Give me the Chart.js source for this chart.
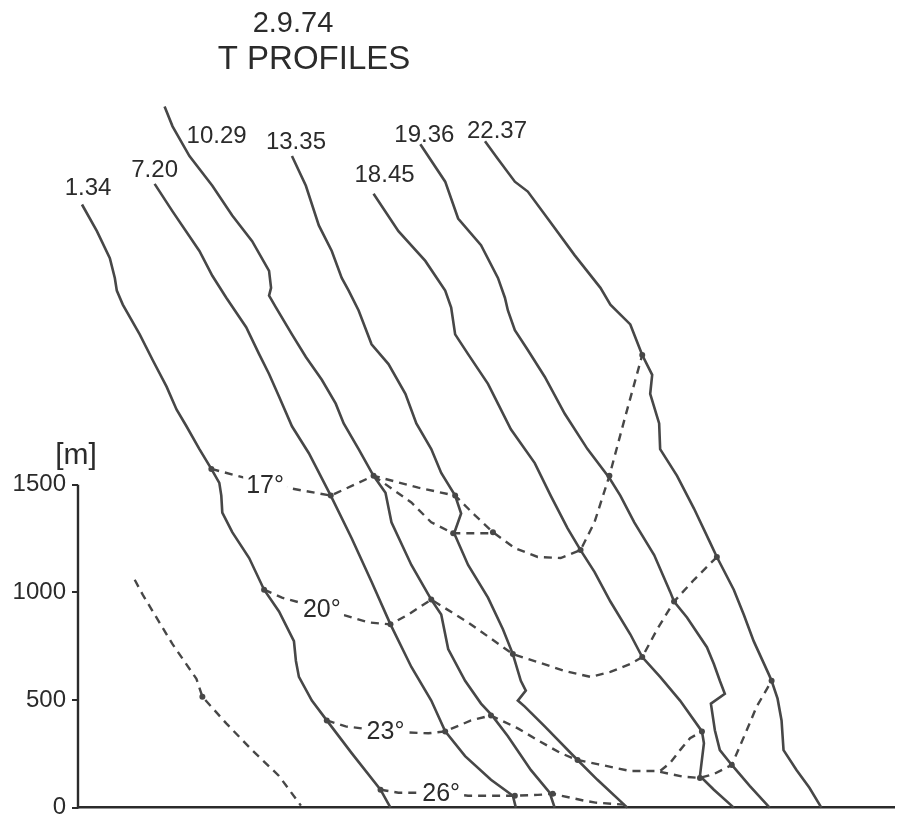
<!DOCTYPE html>
<html>
<head>
<meta charset="utf-8">
<script src="https://cdn.jsdelivr.net/npm/chart.js@4.4.1/dist/chart.umd.min.js"></script>
<style>
  html, body { margin: 0; padding: 0; background: #fff; }
  #wrap { width: 898px; height: 828px; position: relative; }
</style>
</head>
<body>
<div id="wrap"><canvas id="c"></canvas></div>
<script>
// ---- data (x: horizontal offset units, y: height in metres) ----
const titleLines = ['2.9.74', 'T PROFILES'];
const yTicks = [0, 500, 1000, 1500];
const yUnit = '[m]';
const profileTimes = ['1.34', '7.20', '10.29', '13.35', '18.45', '19.36', '22.37'];

const prof_0134 = [[4,2801],[19,2677],[32,2552],[37,2460],[39,2401],[45,2336],[62,2198],[75,2079],[89,1955],[99,1849],[109,1771],[122,1665],[134,1573],[142,1508],[144,1449],[145,1370],[155,1279],[172,1159],[187,1012],[202,911],[217,773],[219,681],[222,607],[235,497],[250,405],[275,253],[304,83],[314,0]];
const prof_0720 = [[77,2897],[95,2769],[122,2585],[135,2470],[149,2368],[169,2231],[182,2106],[192,2014],[202,1909],[215,1771],[232,1646],[254,1449],[275,1251],[295,1049],[314,851],[335,653],[355,497],[369,354],[389,239],[415,129],[437,55],[440,0]];
const prof_1029 = [[87,3256],[95,3164],[112,3026],[135,2888],[155,2750],[175,2631],[192,2493],[194,2414],[192,2378],[199,2322],[215,2198],[229,2093],[245,1987],[259,1876],[267,1784],[282,1665],[297,1541],[309,1462],[315,1325],[335,1127],[355,966],[365,897],[372,736],[389,589],[405,483],[416,428],[432,331],[455,175],[474,69],[479,0]];
const prof_1335 = [[215,3026],[229,2888],[242,2704],[255,2585],[265,2460],[272,2401],[282,2309],[295,2152],[312,2060],[329,1922],[340,1784],[355,1665],[365,1554],[379,1449],[385,1366],[378,1274],[392,1127],[412,975],[427,828],[437,713],[445,589],[450,543],[442,497],[449,469],[469,377],[502,221],[522,129],[552,0]];
const prof_1845 = [[297,2851],[322,2677],[349,2539],[369,2401],[375,2322],[379,2198],[392,2106],[412,1968],[422,1876],[435,1757],[459,1600],[475,1449],[492,1297],[505,1196],[519,1095],[535,957],[555,805],[567,699],[585,607],[605,497],[627,354],[629,299],[625,147],[639,83],[659,0]];
const prof_1936 = [[344,3081],[369,2907],[382,2736],[405,2612],[422,2460],[429,2368],[432,2309],[439,2217],[452,2125],[469,2001],[489,1830],[512,1665],[534,1531],[545,1449],[559,1325],[579,1173],[595,1003],[599,957],[612,883],[632,745],[639,667],[645,589],[650,529],[636,483],[640,359],[645,267],[657,198],[675,101],[695,0]];
const prof_2237 = [[409,3095],[422,3012],[439,2907],[452,2861],[472,2736],[499,2566],[525,2414],[535,2336],[555,2244],[567,2102],[577,2010],[575,1922],[584,1784],[585,1665],[602,1541],[619,1389],[635,1233],[642,1164],[659,1012],[669,897],[679,773],[694,621],[697,589],[703,506],[707,405],[709,267],[722,175],[735,92],[747,0]];

// isotherms: [x, height, crossing flag]
const isoNames = ['17°', '20°', '23°', '26°'];
const iso17a = [[134,1573,1],[194,1499],[254,1449,1],[297,1541,1],[342,1486],[379,1449,1],[399,1357],[417,1279,1],[439,1205],[462,1164],[485,1159],[505,1196,1],[519,1325],[534,1541,1],[550,1817],[567,2102,1]];
const iso17b = [[297,1541],[335,1417],[355,1325],[377,1274,1],[417,1274]];
const iso20  = [[187,1012,1],[205,975],[245,924],[275,883],[292,860],[314,851,1],[332,897],[355,966,1],[392,860],[437,713,1],[462,676],[489,635],[515,607],[535,630],[555,667],[567,699,1],[582,828],[599,957,1],[619,1058],[642,1164,1]];
const iso23a = [[250,405,1],[269,377],[309,354],[352,345],[369,354,1],[395,405],[415,428,1],[442,368],[462,313],[485,253],[502,221,1],[522,202],[555,170],[575,170],[585,170],[595,207],[605,267],[615,322],[627,354,1]];
const iso23b = [[585,166],[609,143],[625,138,1],[639,156],[657,198,1],[672,359],[682,469],[697,589,1]];
const iso26  = [[304,83,1],[322,69],[365,69],[392,55],[439,55,1],[462,59],[477,64,1],[495,46],[509,32],[520,23],[549,14]];
const adiabat = [[57,1058],[65,989],[95,759],[119,598],[125,515,1],[149,391],[175,267],[202,147],[224,9]];

// label placement (layout, not data)
const profileLabelOffsets = [[6,-16],[0,-13],[52,30],[4,-14],[11,-18],[4,-9],[12,-10]];
const isoLabelAt = [[188,1499],[245,924],[309,354],[365,69]];

// ---- styling ----
const INK = '#2b2b2b';
const LINE = '#474747';
const FONT = '"Liberation Sans", Arial, sans-serif';

const toXY = arr => arr.map(p => ({ x: p[0], y: p[1], n: p[2] ? 1 : 0 }));
const profiles = [prof_0134, prof_0720, prof_1029, prof_1335, prof_1845, prof_1936, prof_2237];

const datasets = [];
profiles.forEach((p, i) => {
  datasets.push({
    label: profileTimes[i], data: toXY(p), kind: 'profile', idx: i,
    borderColor: LINE, borderWidth: 2.6, pointRadius: 0, tension: 0, clip: false
  });
});
[iso17a, iso17b, iso20, iso23a, iso23b, iso26, adiabat].forEach((p, i) => {
  datasets.push({
    label: 'iso' + i, data: toXY(p), kind: 'iso',
    borderColor: LINE, borderWidth: 2.4, borderDash: [8, 6], tension: 0, clip: false,
    pointRadius: c => (c.raw && c.raw.n ? 3 : 0),
    pointBackgroundColor: LINE, pointBorderColor: LINE, pointBorderWidth: 0
  });
});

const decor = {
  id: 'decor',
  afterDatasetsDraw(chart) {
    const ctx = chart.ctx;
    const xs = chart.scales.x, ys = chart.scales.y;
    ctx.save();
    // y axis line 0..1500
    ctx.strokeStyle = INK; ctx.lineWidth = 2.4;
    ctx.beginPath();
    ctx.moveTo(xs.left, ys.getPixelForValue(yTicks[0]) + 1);
    ctx.lineTo(xs.left, ys.getPixelForValue(yTicks[yTicks.length - 1]));
    ctx.stroke();

    ctx.fillStyle = INK;
    ctx.textAlign = 'center'; ctx.textBaseline = 'middle';
    // title
    ctx.font = '29px ' + FONT;
    ctx.fillText(titleLines[0], 293, 24);
    ctx.font = '33px ' + FONT;
    ctx.fillText(titleLines[1], 314, 60);
    // unit
    ctx.font = '30px ' + FONT;
    ctx.fillText(yUnit, 76, 456);
    // profile labels
    ctx.font = '24px ' + FONT;
    profiles.forEach((p, i) => {
      const px = xs.getPixelForValue(p[0][0]) + profileLabelOffsets[i][0];
      const py = ys.getPixelForValue(p[0][1]) + profileLabelOffsets[i][1];
      ctx.fillText(profileTimes[i], px, py);
    });
    // isotherm labels with white gap
    ctx.font = '25px ' + FONT;
    isoNames.forEach((t, i) => {
      const px = xs.getPixelForValue(isoLabelAt[i][0]);
      const py = ys.getPixelForValue(isoLabelAt[i][1]);
      const w = ctx.measureText(t).width;
      ctx.fillStyle = '#fff';
      ctx.fillRect(px - w / 2 - 3, py - 11, w + 6, 22);
      ctx.fillStyle = INK;
      ctx.fillText(t, px, py + 1);
    });
    ctx.restore();
  }
};

new Chart(document.getElementById('c'), {
  type: 'line',
  data: { datasets },
  options: {
    responsive: true, maintainAspectRatio: false, animation: false,
    parsing: true,
    layout: { padding: { top: 54, left: 0, right: 0, bottom: 0 } },
    plugins: { legend: { display: false }, tooltip: { enabled: false }, title: { display: false } },
    scales: {
      x: {
        type: 'linear', min: 0, max: 820,
        ticks: { display: false },
        grid: { drawOnChartArea: false, drawTicks: false },
        border: { display: true, color: INK, width: 2.6 },
        afterFit: s => { s.height = 13; }
      },
      y: {
        type: 'linear', min: 0, max: 3500,
        afterBuildTicks: s => { s.ticks = yTicks.map(v => ({ value: v })); },
        ticks: { color: INK, font: { family: FONT, size: 24 }, padding: 6, callback: v => String(v) },
        grid: { drawOnChartArea: false, drawTicks: true, tickLength: 6, color: INK, lineWidth: 2 },
        border: { display: false },
        afterFit: s => { s.width = 78; }
      }
    }
  },
  plugins: [decor]
});
</script>
</body>
</html>
